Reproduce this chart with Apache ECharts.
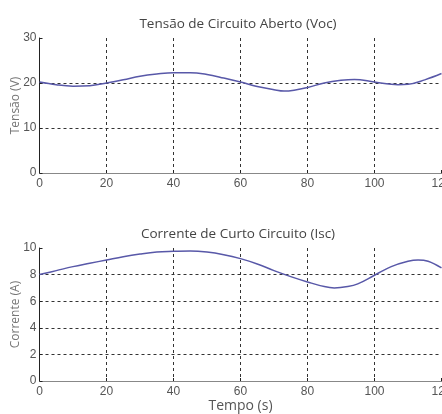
<!DOCTYPE html>
<html>
<head>
<meta charset="utf-8">
<script src="https://cdn.jsdelivr.net/npm/echarts@6/dist/echarts.min.js"></script>
<style>
  html, body { margin: 0; padding: 0; background: #fff; }
  #chart { width: 442px; height: 414px; }
</style>
</head>
<body>
<div id="chart"></div>
<script>
// Open-circuit voltage (V) over time (s)
const vocTime = [0, 5, 10, 15, 20, 25, 30, 35, 40, 45, 50, 55, 60, 65, 70, 73, 76, 80, 85, 90, 94, 100, 105, 107, 110, 115, 120];
const vocValues = [20.2, 19.6, 19.3, 19.4, 20.0, 20.7, 21.5, 22.0, 22.3, 22.3, 21.9, 21.1, 20.2, 19.2, 18.5, 18.2, 18.4, 19.0, 20.0, 20.6, 20.8, 20.2, 19.7, 19.6, 19.7, 20.7, 22.1];

// Short-circuit current (A) over time (s)
const iscTime = [0, 5, 10, 15, 20, 25, 30, 35, 40, 45, 50, 55, 60, 65, 70, 75, 80, 85, 88, 92, 95, 100, 105, 110, 113, 116, 120];
const iscValues = [8.0, 8.3, 8.6, 8.85, 9.1, 9.35, 9.55, 9.7, 9.75, 9.78, 9.7, 9.5, 9.2, 8.8, 8.3, 7.85, 7.45, 7.1, 7.0, 7.1, 7.3, 7.95, 8.6, 9.0, 9.1, 9.0, 8.5];

const xTicks = [0, 20, 40, 60, 80, 100, 120];

const titles = ['Tensão de Circuito Aberto (Voc)', 'Corrente de Curto Circuito (Isc)'];
const yNames = ['Tensão (V)', 'Corrente (A)'];
const xName = 'Tempo (s)';

const pair = (xs, ys) => xs.map((x, i) => [x, ys[i]]);

const tickFont = { color: '#555', fontSize: 12, fontFamily: 'Liberation Sans Narrow, Liberation Sans, sans-serif' };
const titleFont = { color: '#444', fontSize: 13.5, fontWeight: 'normal', fontFamily: 'Open Sans, DejaVu Sans, sans-serif' };
const dashed = { show: true, lineStyle: { color: '#333', width: 1, type: [3, 3] } };

function xAxisFor(gridIndex, withName) {
  return {
    type: 'value', gridIndex, min: 0, max: 120, interval: 20,
    axisLine: { show: true, onZero: false, lineStyle: { color: '#222', width: 1 } },
    axisTick: { show: true, inside: true, length: 3, lineStyle: { color: '#222' } },
    axisLabel: Object.assign({ margin: 5, formatter: v => xTicks.includes(v) ? String(v) : '' }, tickFont),
    splitLine: Object.assign({ showMinLine: false, showMaxLine: false }, dashed),
    name: withName ? xName : '',
    nameLocation: 'middle', nameGap: 18, nameMoveOverlap: false,
    nameTextStyle: { color: '#555', fontSize: 14, fontFamily: 'Open Sans, DejaVu Sans, sans-serif' }
  };
}

function topBorder(gridIndex) {
  return {
    type: 'value', gridIndex, position: 'top', min: 0, max: 120,
    axisLine: { show: true, lineStyle: { color: '#888', width: 1 } },
    axisTick: { show: false }, axisLabel: { show: false }, splitLine: { show: false }
  };
}

function yAxisFor(gridIndex, max, interval, name) {
  return {
    type: 'value', gridIndex, min: 0, max, interval,
    axisLine: { show: true, onZero: false, lineStyle: { color: '#222', width: 1 } },
    axisTick: { show: true, inside: true, length: 3, lineStyle: { color: '#222' } },
    axisLabel: Object.assign({ margin: 3 }, tickFont),
    splitLine: Object.assign({ showMinLine: false, showMaxLine: false }, dashed),
    name, nameLocation: 'middle', nameGap: 18, nameMoveOverlap: false,
    nameTextStyle: { color: '#777', fontSize: 12, fontFamily: 'Open Sans, DejaVu Sans, sans-serif' }
  };
}

const lineStyle = { color: '#5858a8', width: 1.5 };

const chart = echarts.init(document.getElementById('chart'), null, { renderer: 'canvas' });
chart.setOption({
  animation: false,
  backgroundColor: '#fff',
  title: [
    { text: titles[0], left: 233, top: 12, textAlign: 'center', textStyle: titleFont },
    { text: titles[1], left: 233, top: 222, textAlign: 'center', textStyle: titleFont }
  ],
  grid: [
    { left: 39.5, right: 0.5, top: 38, height: 135, containLabel: false, outerBoundsMode: 'none' },
    { left: 39.5, right: 0.5, top: 248, height: 133, containLabel: false, outerBoundsMode: 'none' }
  ],
  xAxis: [xAxisFor(0, false), xAxisFor(1, true), topBorder(0), topBorder(1)],
  yAxis: [yAxisFor(0, 30, 10, yNames[0]), yAxisFor(1, 10, 2, yNames[1])],
  series: [
    { type: 'line', xAxisIndex: 0, yAxisIndex: 0, data: pair(vocTime, vocValues), smooth: 0.4, showSymbol: false, lineStyle, z: 5 },
    { type: 'line', xAxisIndex: 1, yAxisIndex: 1, data: pair(iscTime, iscValues), smooth: 0.4, showSymbol: false, lineStyle, z: 5 }
  ]
});
</script>
</body>
</html>
